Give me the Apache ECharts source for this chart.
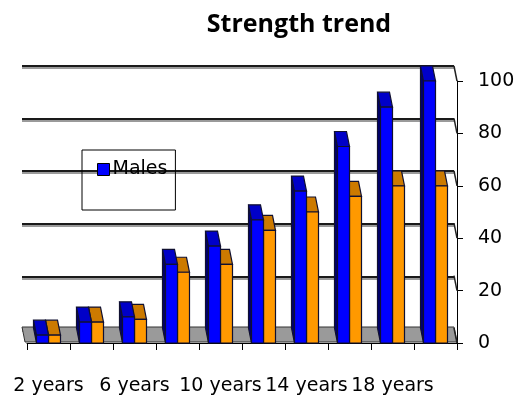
<!DOCTYPE html>
<html><head><meta charset="utf-8">
<script src="https://cdn.jsdelivr.net/npm/echarts@6/dist/echarts.min.js"></script>
<style>html,body{margin:0;padding:0;background:#fff}#c{width:530px;height:396px}</style>
</head><body><div id="c"></div>
<script>
const categories = ['2 years','4 years','6 years','8 years','10 years','12 years','14 years','16 years','18 years','20 years'];
const males = [3, 8, 10, 30, 37, 47, 58, 75, 90, 100];
const females = [3, 8, 9, 27, 30, 43, 50, 56, 60, 60];
const yTicks = [0, 20, 40, 60, 80, 100];

const DX = -3, DY = -15, FACE_W = 12;
const FONT = 'DejaVu Sans';

function barRenderer(side, frontColor, capColor, sideColor) {
  return function (params, api) {
    const i = api.value(0), v = api.value(1);
    const base = api.coord([i, 0]);
    const top = api.coord([i, v]);
    const x0 = side < 0 ? base[0] - FACE_W : base[0];
    const x1 = x0 + FACE_W;
    const yb = base[1], yt = top[1];
    const st = { stroke: '#101030', lineWidth: 1.2 };
    return { type: 'group', children: [
      { type: 'polygon', shape: { points: [[x0, yt], [x0 + DX, yt + DY], [x0 + DX, yb + DY], [x0, yb]] }, style: Object.assign({ fill: sideColor }, st) },
      { type: 'polygon', shape: { points: [[x0, yt], [x1, yt], [x1 + DX, yt + DY], [x0 + DX, yt + DY]] }, style: Object.assign({ fill: capColor }, st) },
      { type: 'rect', shape: { x: x0, y: yt, width: FACE_W, height: yb - yt }, style: Object.assign({ fill: frontColor }, st) }
    ]};
  };
}

const chart = echarts.init(document.getElementById('c'), null, { renderer: 'canvas' });
chart.setOption({
  animation: false,
  title: {
    text: 'Strength trend', left: 294, top: 7, textAlign: 'center',
    textStyle: { fontFamily: 'Open Sans', fontWeight: 'bold', fontSize: 25, color: '#000' }
  },
  legend: {
    data: [{ name: 'Males', icon: 'rect' }],
    left: 82, top: 150,
    orient: 'vertical',
    padding: [10, 8, 31, 15],
    borderColor: '#000', borderWidth: 1,
    itemWidth: 12, itemHeight: 12, itemGap: 4,
    itemStyle: { borderColor: '#000', borderWidth: 1 },
    textStyle: { fontFamily: FONT, fontSize: 19, color: '#000', padding: [0, 0, 0, -2] }
  },
  grid: [
    { left: 27, right: 73, top: 81, bottom: 52 },
    { left: 22, right: 76, top: 66, bottom: 67 }
  ],
  xAxis: [
    {
      type: 'category', data: categories, gridIndex: 0, boundaryGap: true,
      axisLine: { show: true, lineStyle: { color: '#000', width: 1 } },
      axisTick: { show: true, interval: 0, length: 7, lineStyle: { color: '#000', width: 1 } },
      axisLabel: { interval: 1, margin: 33, fontFamily: FONT, fontSize: 19, color: '#000', lineHeight: 20 }
    },
    { type: 'value', gridIndex: 1, show: false, min: 0, max: 1 }
  ],
  yAxis: [
    {
      type: 'value', gridIndex: 0, position: 'right', min: 0, max: 100, interval: 20,
      axisLine: { show: true, lineStyle: { color: '#000', width: 1 } },
      axisTick: { show: true, length: 6, lineStyle: { color: '#000' } },
      axisLabel: { margin: 21, align: 'left', fontFamily: FONT, fontSize: 19, color: '#000' },
      splitLine: { show: false }
    },
    {
      type: 'value', gridIndex: 1, min: 0, max: 100, interval: 20,
      axisLine: { show: false }, axisTick: { show: false }, axisLabel: { show: false },
      splitLine: { show: true, lineStyle: { color: '#1a1a1a', width: 2, shadowColor: '#9a9a9a', shadowOffsetY: 2, shadowBlur: 0 } }
    }
  ],
  series: [
    {
      name: 'floor', type: 'custom', xAxisIndex: 0, yAxisIndex: 0, z: 1, silent: true,
      data: [[0, 0]],
      renderItem: function (params, api) {
        const bw = api.size([1, 0])[0];
        const a = api.coord([0, 0]), b = api.coord([categories.length - 1, 0]);
        const xl = a[0] - bw / 2 - 2, xr = b[0] + bw / 2, y = a[1] - 1;
        return { type: 'polygon', shape: { points: [[xl, y], [xr, y], [xr + DX, y + DY], [xl + DX, y + DY]] },
          style: { fill: '#9a9a9a', stroke: '#333', lineWidth: 1 } };
      }
    },
    {
      name: 'wall', type: 'custom', xAxisIndex: 0, yAxisIndex: 0, z: 1, silent: true,
      data: yTicks.map(function (t) { return [0, t]; }),
      renderItem: function (params, api) {
        const bw = api.size([1, 0])[0];
        const b = api.coord([categories.length - 1, api.value(1)]);
        const xr = b[0] + bw / 2;
        return { type: 'line', shape: { x1: xr + DX, y1: b[1] + DY, x2: xr, y2: b[1] },
          style: { stroke: '#222', lineWidth: 1.5 } };
      }
    },
    {
      name: 'Females', type: 'custom', xAxisIndex: 0, yAxisIndex: 0, z: 2, clip: false,
      itemStyle: { color: '#FF9900' },
      data: females.map(function (v, i) { return [i, v]; }),
      renderItem: barRenderer(1, '#FF9900', '#CC7A00', '#7a4a00')
    },
    {
      name: 'Males', type: 'custom', xAxisIndex: 0, yAxisIndex: 0, z: 3, clip: false,
      itemStyle: { color: '#0000FF' },
      data: males.map(function (v, i) { return [i, v]; }),
      renderItem: barRenderer(-1, '#0000FF', '#0000C8', '#000070')
    }
  ]
});
</script></body></html>
